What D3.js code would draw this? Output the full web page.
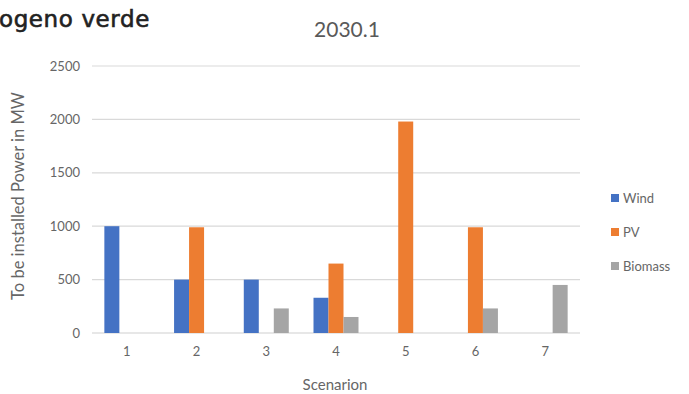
<!DOCTYPE html>
<html><head><meta charset="utf-8">
<script src="https://cdn.jsdelivr.net/npm/d3@7"></script>
<style>body{margin:0;background:#fff;} svg{display:block;}</style>
</head><body>
<svg id="c" width="689" height="394"></svg>
<script>
const categories = ["1","2","3","4","5","6","7"];
const seriesNames = ["Wind","PV","Biomass"];
const wind = [1000,500,500,330,0,0,0];
const pv = [0,990,0,650,1980,990,0];
const biomass = [0,0,230,150,0,230,450];
const yTicks = [0,500,1000,1500,2000,2500];
const colors = ["#4472C4","#ED7D31","#A5A5A5"];
const series = [wind,pv,biomass];

(function(){
const svg = d3.select("#c");
const font = "Lato, 'Open Sans', sans-serif";
const pl = 92, pr = 580, pt = 66, pb = 333;

const x = d3.scaleBand().domain(categories).range([pl,pr]).paddingInner(0).paddingOuter(0);
const y = d3.scaleLinear().domain([0,2500]).range([pb,pt]);
const bw = 15;
const xs = d3.scaleBand().domain(seriesNames).range([0,bw*3]);

svg.append("g").selectAll("line").data(yTicks).join("line")
  .attr("x1",pl).attr("x2",pr)
  .attr("y1",d=>y(d)).attr("y2",d=>y(d))
  .attr("stroke",d=>d===0?"#d0d0d0":"#d9d9d9").attr("stroke-width",1.2);

const yAxis = d3.axisLeft(y).tickValues(yTicks).tickFormat(d3.format("d")).tickSize(0).tickPadding(0);
const gy = svg.append("g").attr("transform",`translate(${pl-12},0)`).call(yAxis);
gy.select(".domain").remove();
gy.selectAll("text").attr("font-family",font).attr("font-size",13).attr("fill","#666");

const xAxis = d3.axisBottom(x).tickSize(0).tickPadding(0);
const gx = svg.append("g").attr("transform",`translate(0,${pb+14})`).call(xAxis);
gx.select(".domain").remove();
gx.selectAll("text").attr("font-family",font).attr("font-size",13).attr("fill","#666");

seriesNames.forEach((s,i)=>{
  svg.append("g").selectAll("rect").data(series[i]).join("rect")
    .attr("x",(d,j)=>x(categories[j])+x.bandwidth()/2-bw*1.5+xs(s))
    .attr("width",xs.bandwidth())
    .attr("y",d=>y(d)).attr("height",d=>pb-y(d))
    .attr("fill",colors[i]);
});

svg.append("text").attr("x",347).attr("y",37).attr("text-anchor","middle")
  .attr("font-family",font).attr("font-size",21).attr("fill","#595959").text("2030.1");

svg.append("text").attr("x",-1).attr("y",27)
  .attr("font-family","'DejaVu Sans', sans-serif").attr("font-size",23).attr("letter-spacing",0.6)
  .attr("fill","#222").attr("stroke","#222").attr("stroke-width",0.6).text("ogeno verde");

svg.append("text").attr("transform","translate(24,196) rotate(-90)").attr("text-anchor","middle")
  .attr("font-family",font).attr("font-size",16.5).attr("fill","#666").text("To be installed Power in MW");

svg.append("text").attr("x",335).attr("y",390).attr("text-anchor","middle")
  .attr("font-family",font).attr("font-size",15).attr("fill","#666").text("Scenarion");

const lg = svg.append("g").selectAll("g").data(seriesNames).join("g")
  .attr("transform",(d,i)=>`translate(611,${194+i*34})`);
lg.append("rect").attr("width",8).attr("height",8).attr("fill",(d,i)=>colors[i]);
lg.append("text").attr("x",12).attr("y",9).attr("font-family",font).attr("font-size",13).attr("fill","#666").text(d=>d);
})();
</script>
</body></html>
